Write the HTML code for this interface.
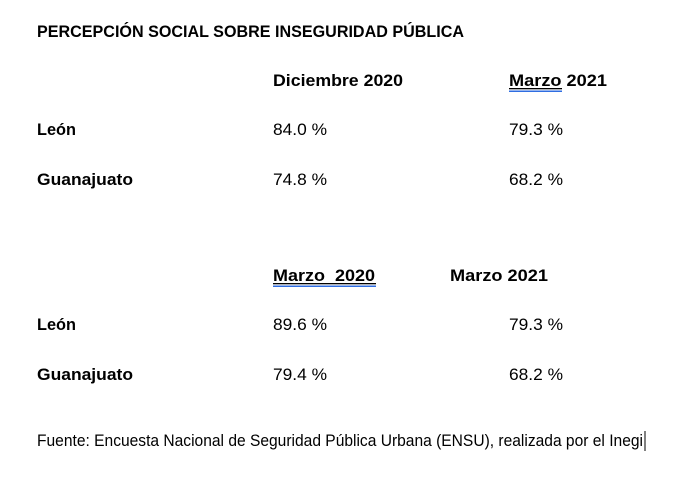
<!DOCTYPE html>
<html><head><meta charset="utf-8"><style>
html,body{margin:0;padding:0;background:#fff;}
svg{display:block}
text{font-family:"Liberation Sans",sans-serif;font-size:16.5px;fill:#000}
.b{font-weight:bold}
.t{font-size:17px}
</style></head><body>
<svg width="691" height="484" viewBox="0 0 691 484">
<text class="b t" x="37" y="37" textLength="427" lengthAdjust="spacingAndGlyphs">PERCEPCIÓN SOCIAL SOBRE INSEGURIDAD PÚBLICA</text>

<text class="b" x="273" y="86" textLength="130" lengthAdjust="spacingAndGlyphs">Diciembre 2020</text>
<text class="b" x="509" y="86" textLength="98" lengthAdjust="spacingAndGlyphs">Marzo 2021</text>
<rect x="509" y="88" width="53" height="1.3" fill="#000"/>
<rect x="509" y="90.5" width="53" height="1.5" fill="#2f6de1"/>

<text class="b" x="37" y="135" textLength="39" lengthAdjust="spacingAndGlyphs">León</text>
<text x="273" y="135" textLength="54" lengthAdjust="spacingAndGlyphs">84.0 %</text>
<text x="509" y="135" textLength="54" lengthAdjust="spacingAndGlyphs">79.3 %</text>

<text class="b" x="37" y="185" textLength="96" lengthAdjust="spacingAndGlyphs">Guanajuato</text>
<text x="273" y="185" textLength="54" lengthAdjust="spacingAndGlyphs">74.8 %</text>
<text x="509" y="185" textLength="54" lengthAdjust="spacingAndGlyphs">68.2 %</text>

<text class="b" x="273" y="281" textLength="102" lengthAdjust="spacingAndGlyphs" xml:space="preserve">Marzo  2020</text>
<rect x="273" y="283" width="103" height="1.3" fill="#000"/>
<rect x="273" y="285.5" width="103" height="1.5" fill="#2f6de1"/>
<text class="b" x="450" y="281" textLength="98" lengthAdjust="spacingAndGlyphs">Marzo 2021</text>

<text class="b" x="37" y="330" textLength="39" lengthAdjust="spacingAndGlyphs">León</text>
<text x="273" y="330" textLength="54" lengthAdjust="spacingAndGlyphs">89.6 %</text>
<text x="509" y="330" textLength="54" lengthAdjust="spacingAndGlyphs">79.3 %</text>

<text class="b" x="37" y="380" textLength="96" lengthAdjust="spacingAndGlyphs">Guanajuato</text>
<text x="273" y="380" textLength="54" lengthAdjust="spacingAndGlyphs">79.4 %</text>
<text x="509" y="380" textLength="54" lengthAdjust="spacingAndGlyphs">68.2 %</text>

<text x="37" y="446" textLength="606" lengthAdjust="spacingAndGlyphs">Fuente: Encuesta Nacional de Seguridad Pública Urbana (ENSU), realizada por el Inegi</text>
<rect x="644.5" y="431" width="1" height="20" fill="#000"/>
</svg>
</body></html>
